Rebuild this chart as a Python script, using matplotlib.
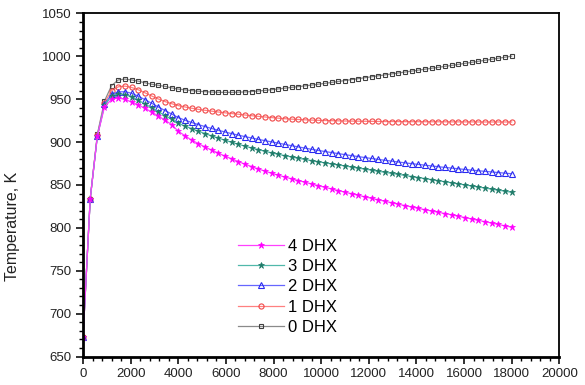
import matplotlib
matplotlib.use("Agg")
import matplotlib.pyplot as plt
from matplotlib.ticker import MultipleLocator

plt.rcParams['font.family'] = ['Liberation Sans', 'DejaVu Sans']

time_s = [0, 300, 600, 900,
          1200, 1480, 1760, 2040, 2320, 2600, 2880, 3160, 3440, 3720,
          4000, 4280, 4560, 4840, 5120, 5400, 5680, 5960, 6240, 6520,
          6800, 7080, 7360, 7640, 7920, 8200, 8480, 8760, 9040, 9320,
          9600, 9880, 10160, 10440, 10720, 11000, 11280, 11560, 11840, 12120,
          12400, 12680, 12960, 13240, 13520, 13800, 14080, 14360, 14640, 14920,
          15200, 15480, 15760, 16040, 16320, 16600, 16880, 17160, 17440, 17720,
          18000]

dhx0 = [673, 834, 909, 948,
        966, 972.5, 973.5, 972.5, 971, 969.2, 967.5, 966.2, 965, 963.2,
        961.8, 961, 960, 959.3, 958.8, 958.4, 958.1, 958, 958, 958.2,
        958.5, 959, 959.6, 960.3, 961.1, 962, 962.9, 963.8, 964.7, 965.6,
        966.5, 967.5, 968.5, 969.6, 970.7, 971.8, 972.9, 974, 975.1, 976.2,
        977.3, 978.4, 979.5, 980.6, 981.7, 982.8, 983.9, 985, 986.1, 987.2,
        988.3, 989.4, 990.6, 991.8, 993, 994.2, 995.4, 996.6, 997.8, 999,
        1000.2]

dhx1 = [673, 834, 908, 946,
        960, 964.5, 965.3, 963.7, 961, 957.5, 953.8, 950.3, 947.3, 944.8,
        942.6, 941, 939.5, 938.2, 937.1, 936.1, 935.1, 934.2, 933.3, 932.5,
        931.6, 930.8, 930, 929.3, 928.6, 927.9, 927.3, 926.8, 926.4, 926,
        925.7, 925.4, 925.2, 925, 924.8, 924.6, 924.5, 924.4, 924.3, 924.2,
        924.1, 924, 924, 923.9, 923.9, 923.8, 923.8, 923.8, 923.7, 923.7,
        923.7, 923.6, 923.6, 923.6, 923.6, 923.5, 923.5, 923.5, 923.5, 923.5,
        923.5]

dhx2 = [673, 834, 907, 944,
        956, 958.5, 958.8, 957, 953.5, 949.5, 945.3, 941, 936.8, 932.8,
        928.5, 925.6, 922.9, 920.4, 918.1, 915.9, 913.8, 911.8, 909.9, 908.1,
        906.4, 904.8, 903.2, 901.7, 900.2, 898.8, 897.3, 895.8, 894.4, 893,
        891.6, 890.3, 889, 887.8, 886.6, 885.4, 884.2, 883.1, 882, 880.9,
        879.8, 878.8, 877.8, 876.8, 875.8, 874.9, 874, 873.1, 872.2, 871.3,
        870.5, 869.7, 868.9, 868.1, 867.3, 866.6, 865.9, 865.2, 864.5, 863.8,
        863.1]

dhx3 = [673, 834, 907, 943,
        953.5, 956.5, 955.5, 952.5, 948.8, 944.5, 940, 935.5, 931, 926.5,
        922, 918.8, 915.7, 912.8, 910, 907.3, 904.7, 902.2, 899.8, 897.5,
        895.3, 893.2, 891.2, 889.3, 887.5, 885.8, 884.2, 882.7, 881.2, 879.8,
        878.4, 877.1, 875.8, 874.6, 873.4, 872.2, 870.9, 869.7, 868.5, 867.3,
        866, 864.8, 863.6, 862.4, 861.1, 859.9, 858.7, 857.5, 856.2, 855,
        853.8, 852.6, 851.3, 850.1, 848.9, 847.7, 846.4, 845.2, 844, 842.8,
        841.5]

dhx4 = [673, 834, 907, 941,
        950, 951.5, 949.8, 946.8, 943.4, 939.5, 935, 930.5, 925.5, 920.5,
        912.6, 907.4, 902.3, 898.3, 894.4, 890.7, 887.2, 883.7, 880.5, 877.3,
        874.3, 871.5, 868.7, 866.2, 863.7, 861.4, 859.3, 857.2, 855.2, 853.2,
        851.2, 849.2, 847.3, 845.4, 843.5, 841.6, 839.8, 838, 836.2, 834.4,
        832.7, 831, 829.3, 827.6, 826, 824.4, 822.8, 821.2, 819.7, 818.2,
        816.7, 815.2, 813.6, 812, 810.4, 808.8, 807.2, 805.6, 804, 802.4,
        800.8]

labels = ["4 DHX", "3 DHX", "2 DHX", "1 DHX", "0 DHX"]

fig = plt.figure(figsize=(5.85, 3.85), dpi=100)
ax = fig.add_axes([0.142, 0.074, 0.814, 0.891])

h0, = ax.plot(time_s, dhx0, color='#8a8a8a', lw=0.9, marker='s', ms=3.4,
              mfc='none', mec='#404040', mew=0.8)
h1, = ax.plot(time_s, dhx1, color='#ff8080', lw=0.9, marker='o', ms=3.7,
              mfc='none', mec='#f04848', mew=0.8)
h2, = ax.plot(time_s, dhx2, color='#6666ff', lw=0.9, marker='^', ms=3.9,
              mfc='none', mec='#2a2af0', mew=0.8)
h3, = ax.plot(time_s, dhx3, color='#50b8aa', lw=0.9, marker='*', ms=5.0,
              mfc='#1f7a68', mec='#1f7a68', mew=0.5)
h4, = ax.plot(time_s, dhx4, color='#ff40ff', lw=0.9, marker='*', ms=5.0,
              mfc='#ff00ff', mec='#ff00ff', mew=0.5)

ax.set_xlim(0, 20000)
ax.set_ylim(650, 1050)
ax.xaxis.set_major_locator(MultipleLocator(2000))
ax.xaxis.set_minor_locator(MultipleLocator(400))
ax.yaxis.set_major_locator(MultipleLocator(50))
ax.yaxis.set_minor_locator(MultipleLocator(10))
ax.tick_params(which='major', direction='out', length=5, width=1.3,
               labelsize=9.5, colors='#222222', top=False, right=False)
ax.tick_params(which='minor', direction='out', length=2.8, width=1.0,
               top=False, right=False)
for side in ['left', 'bottom']:
    ax.spines[side].set_linewidth(2.0)
for side in ['top', 'right']:
    ax.spines[side].set_linewidth(1.3)

ax.set_ylabel("Temperature, K", fontsize=11.5, color='#222222')
ax.yaxis.set_label_coords(-0.132, 0.38)

leg = ax.legend([h4, h3, h2, h1, h0], labels, loc='lower left',
                bbox_to_anchor=(0.305, 0.034), frameon=False, fontsize=12,
                numpoints=1, handlelength=2.75, handletextpad=0.25,
                labelspacing=0.32, borderaxespad=0.2)

fig.savefig("out.png", dpi=100)
